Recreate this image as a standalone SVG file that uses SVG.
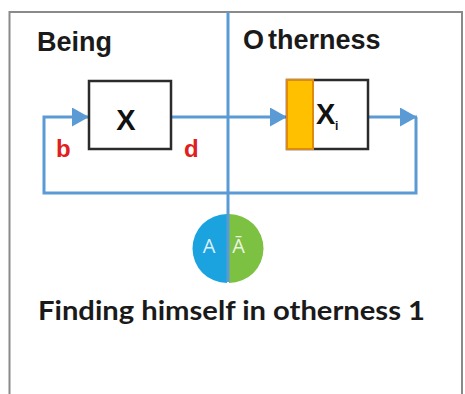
<svg xmlns="http://www.w3.org/2000/svg" width="465" height="394" viewBox="0 0 465 394">
<defs>
<style>
.frame{fill:#fff;stroke:#8a8a8a;stroke-width:2}
.conn{fill:none;stroke:#5B9BD5;stroke-width:3}
.box{fill:#fff;stroke:#2b2b2b;stroke-width:2.5}
.title{font-family:"Liberation Sans",Arial,sans-serif;font-weight:bold;font-size:27px;fill:#1a1a1a}
.lbl{font-family:"Liberation Sans",Arial,sans-serif;font-weight:bold;font-size:24px;fill:#e02020}
.bx{font-family:"Liberation Sans",Arial,sans-serif;font-weight:bold;font-size:29px;fill:#111}
.ca{font-family:"Open Sans","Liberation Sans",sans-serif;font-size:20px;fill:#fff;fill-opacity:0.85;text-anchor:middle}
.cap{font-family:Lato,"Liberation Sans",sans-serif;font-weight:bold;font-size:26px;fill:#1a1a1a}
</style>
<marker id="arr" viewBox="0 0 17 19" refX="17" refY="9.5" markerWidth="17" markerHeight="19" markerUnits="userSpaceOnUse" orient="auto">
<path d="M0,0 L17,9.5 L0,19 Z" fill="#5B9BD5"/>
</marker>
</defs>
<rect class="frame" x="9.5" y="12" width="452.5" height="400"/>
<text class="title" x="37" y="51">Being</text>
<text class="title" x="243" y="49">O<tspan dx="4">therness</tspan></text>
<g id="circle">
<path d="M227,214 A34.5,34.5 0 0 0 227,283 Z" fill="#1BA3E0"/>
<path d="M229,214 A34.5,34.5 0 0 1 229,283 Z" fill="#7CC142"/>
<text class="ca" x="209" y="253">A</text>
<text class="ca" x="238.5" y="253">Ā</text>
</g>
<g id="connectors">
<line class="conn" x1="228" y1="12" x2="228" y2="282"/>
<path class="conn" d="M171,117 H287" marker-end="url(#arr)"/>
<path class="conn" d="M368,117 H417" marker-end="url(#arr)"/>
<path class="conn" d="M416,117 V193 H44 V117 H89" marker-end="url(#arr)"/>
</g>
<g id="nodeX">
<rect class="box" x="89" y="81" width="82" height="68"/>
<text class="bx" x="126" y="130" text-anchor="middle">X</text>
</g>
<g id="nodeXi">
<rect class="box" x="287" y="80" width="81" height="69"/>
<rect x="287" y="80" width="26" height="69" fill="#FFC000" stroke="#E08A10" stroke-width="2"/>
<text class="bx" x="316" y="124">X</text>
<text x="335" y="130" font-family="Liberation Sans,Arial,sans-serif" font-size="12" font-weight="bold" fill="#111">i</text>
</g>
<text class="lbl" x="56" y="157">b</text>
<text class="lbl" x="184" y="157">d</text>
<text class="cap" x="38" y="320" textLength="387" lengthAdjust="spacingAndGlyphs">Finding himself in otherness 1</text>
</svg>
